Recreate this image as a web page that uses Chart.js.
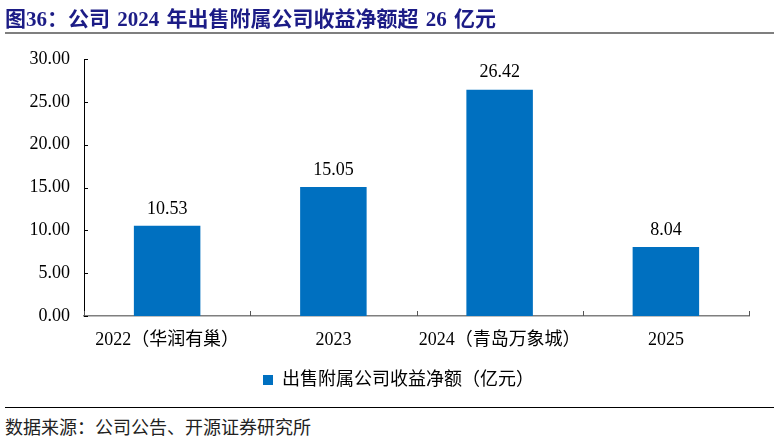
<!DOCTYPE html>
<html>
<head>
<meta charset="utf-8">
<script src="https://cdn.jsdelivr.net/npm/chart.js@4"></script>
<style>
  body { margin: 0; width: 774px; height: 439px; background: #fff; position: relative; overflow: hidden; }
  #title { position: absolute; left: 5px; top: 2px; font: bold 21px "Liberation Serif", "Noto Sans CJK SC", serif; word-spacing: 2px; color: #1c1c86; white-space: nowrap; }
  #titleLine { position: absolute; left: 5px; right: 0; top: 32px; height: 2px; background: #7f7f7f; }
  #box { position: absolute; left: 0; top: 0; width: 774px; height: 402px; }
  #srcLine { position: absolute; left: 5px; right: 0; top: 407px; height: 1px; background: #000; }
  #source { position: absolute; left: 5px; top: 413px; font: 18px "Liberation Serif", "Noto Sans CJK SC", serif; color: #222; white-space: nowrap; }
</style>
</head>
<body>
<div id="box"><canvas id="mycanvas"></canvas></div>
<div id="title">图36：公司 2024 年出售附属公司收益净额超 26 亿元</div>
<div id="titleLine"></div>
<div id="srcLine"></div>
<div id="source">数据来源：公司公告、开源证券研究所</div>
<script>
var categories = ["2022（华润有巢）", "2023", "2024（青岛万象城）", "2025"];
var gains = [10.53, 15.05, 26.42, 8.04];
var seriesName = "出售附属公司收益净额（亿元）";
var yTicks = [0, 5, 10, 15, 20, 25, 30];

var serif = '"Liberation Serif", "Noto Sans CJK SC", serif';

// numbers above the bars
var barLabels = {
	id: "barLabels",
	afterDatasetsDraw: function(chart) {
		var ctx = chart.ctx;
		var meta = chart.getDatasetMeta(0);
		ctx.save();
		ctx.font = "18px " + serif;
		ctx.fillStyle = "#000";
		ctx.textAlign = "center";
		ctx.textBaseline = "bottom";
		meta.data.forEach(function(bar, i) {
			ctx.fillText(gains[i].toFixed(2), bar.x, bar.y - 8);
		});
		ctx.restore();
	}
};

// short tick marks pointing into the plot
var innerTicks = {
	id: "innerTicks",
	afterDraw: function(chart) {
		var ctx = chart.ctx;
		var y = chart.scales.y;
		var a = chart.chartArea;
		ctx.save();
		ctx.lineWidth = 1;
		ctx.strokeStyle = "#000";
		ctx.beginPath();
		yTicks.forEach(function(v) {
			var py = Math.round(y.getPixelForValue(v)) + 0.5;
			ctx.moveTo(a.left, py);
			ctx.lineTo(a.left + 4, py);
		});
		ctx.stroke();
		ctx.strokeStyle = "#555";
		ctx.beginPath();
		var step = (a.right - a.left) / categories.length;
		for (var i = 0; i <= categories.length; i++) {
			var px = Math.round(a.left + step * i) + 0.5;
			ctx.moveTo(px, a.bottom);
			ctx.lineTo(px, a.bottom - 5);
		}
		ctx.stroke();
		ctx.restore();
	}
};

// legend sits a little right of the canvas centre
var legendShift = {
	id: "legendShift",
	afterLayout: function(chart) {
		chart.legend.left += 24;
		chart.legend.right += 24;
	}
};

var ctx = document.getElementById("mycanvas");
new Chart(ctx, {
	type: "bar",
	data: {
		labels: categories,
		datasets: [{
			label: seriesName,
			data: gains,
			backgroundColor: "#0070c0",
			borderWidth: 0,
			barPercentage: 1,
			categoryPercentage: 0.4
		}]
	},
	options: {
		responsive: true,
		maintainAspectRatio: false,
		animation: false,
		layout: { padding: { top: 59, right: 25, left: 0, bottom: 3 } },
		plugins: {
			tooltip: { enabled: false },
			legend: {
				position: "bottom",
				labels: {
					boxWidth: 10,
					boxHeight: 10,
					color: "#000",
					font: { family: serif, size: 18 },
					padding: 10
				}
			}
		},
		scales: {
			x: {
				grid: { display: false, drawTicks: false },
				border: { color: "#7f7f7f", width: 1.5 },
				ticks: {
					color: "#000",
					font: { family: serif, size: 18 },
					padding: 13,
					maxRotation: 0
				},
				afterFit: function(s) { s.height = 45; }
			},
			y: {
				min: 0,
				max: 30,
				grid: { display: false, drawTicks: false },
				border: { color: "#000", width: 1 },
				ticks: {
					stepSize: 5,
					color: "#000",
					font: { family: serif, size: 18 },
					padding: 14,
					callback: function(v) { return v.toFixed(2); }
				},
				afterFit: function(s) { s.width = 84; }
			}
		}
	},
	plugins: [barLabels, innerTicks, legendShift]
});
</script>
</body>
</html>
